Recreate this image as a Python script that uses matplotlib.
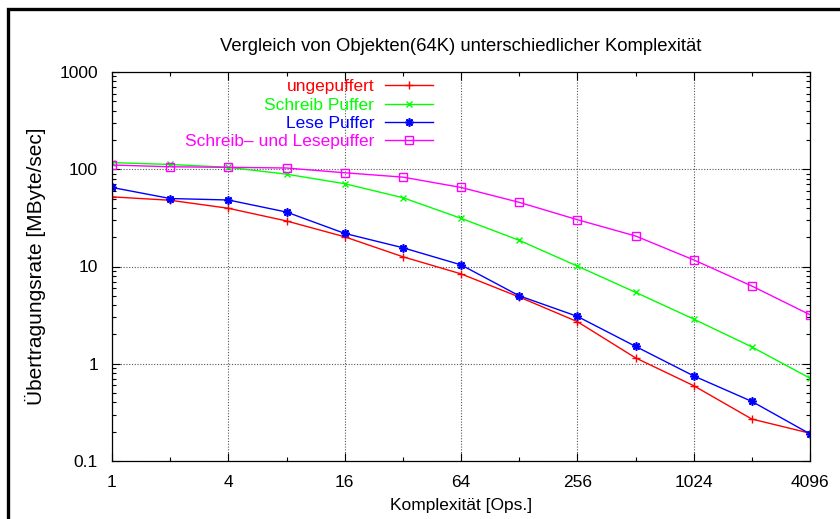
import numpy as np
import matplotlib
matplotlib.use("Agg")
from matplotlib import pyplot as plt
from matplotlib.patches import Rectangle
from matplotlib.ticker import FixedLocator, NullFormatter, LogLocator

plt.rcParams['font.family'] = ['Liberation Sans', 'DejaVu Sans']

# Komplexitaet [Ops.]
ops = [1, 2, 4, 8, 16, 32, 64, 128, 256, 512, 1024, 2048, 4096]

# Uebertragungsrate [MByte/sec]
ungepuffert = [52, 48, 39.7, 29.4, 20.2, 12.6, 8.4, 4.86, 2.71, 1.15, 0.595, 0.27, 0.193]
schreib_puffer = [117, 112, 104.7, 89, 71, 51, 31.3, 18.6, 10.1, 5.43, 2.88, 1.49, 0.71]
lese_puffer = [65, 50, 48.3, 36.3, 21.9, 15.6, 10.4, 5.0, 3.07, 1.51, 0.75, 0.41, 0.19]
schreib_lese = [110.6, 106, 104.7, 103, 92, 83, 65, 45.7, 30.3, 20.6, 11.7, 6.3, 3.19]

xticks = [1, 4, 16, 64, 256, 1024, 4096]
xminor = [2, 8, 32, 128, 512, 2048]
yticks = [0.1, 1, 10, 100, 1000]
ylabels = ['0.1', '1', '10', '100', '1000']

fs = 12.5

fig = plt.figure(figsize=(8.4, 5.19), dpi=100)
ax = fig.add_axes([112/840, 1 - 461/519, 698/840, 389/519])

ax.plot(ops, ungepuffert, color='#ff0000', marker='+', ms=6, mew=1, lw=1, label='ungepuffert')
ax.plot(ops, schreib_puffer, color='#00ff00', marker='x', ms=4.5, mew=1, lw=1, label='Schreib Puffer')
ax.plot(ops, lese_puffer, color='#0000ff', marker=(8, 2, 0), ms=6, mew=1.2, lw=1, label='Lese Puffer')
ax.plot(ops, schreib_lese, color='#ff00ff', marker='s', ms=5.5, mfc='none', mew=1, lw=1,
        label='Schreib\u2013 und Lesepuffer')

ax.set_xscale('log', base=2)
ax.set_yscale('log')
ax.set_xlim(1, 4096)
ax.set_ylim(0.1, 1000)

ax.xaxis.set_major_locator(FixedLocator(xticks))
ax.xaxis.set_minor_locator(FixedLocator(xminor))
ax.set_xticklabels([str(v) for v in xticks])
ax.xaxis.set_minor_formatter(NullFormatter())
ax.yaxis.set_major_locator(FixedLocator(yticks))
ax.set_yticklabels(ylabels)
ax.yaxis.set_minor_locator(LogLocator(base=10, subs=np.arange(2, 10)))
ax.yaxis.set_minor_formatter(NullFormatter())

ax.tick_params(which='both', direction='in', top=True, right=True, labelsize=fs, width=0.8)
ax.tick_params(which='major', length=6)
ax.tick_params(axis='x', which='major', pad=10)
ax.tick_params(axis='y', which='major', pad=10)
ax.tick_params(which='minor', length=3)
ax.grid(True, which='major', color='#555555', ls=(0, (1, 1.5)), lw=0.8)
for s in ax.spines.values():
    s.set_linewidth(0.9)

ax.set_xlabel('Komplexität [Ops.]', fontsize=fs, labelpad=6)
ax.set_ylabel('Übertragungsrate [MByte/sec]', fontsize=15, labelpad=10)
ax.set_title('Vergleich von Objekten(64K) unterschiedlicher Komplexität', fontsize=13.3, pad=15)

leg = ax.legend(loc='upper right', bbox_to_anchor=((445.5 - 112) / 698, 1 + 5/389),
                markerfirst=False, frameon=False, fontsize=fs, handlelength=2.77,
                labelspacing=0.185, borderpad=0.2, handletextpad=0.63)
for t, h in zip(leg.get_texts(), leg.legend_handles):
    t.set_color(h.get_color())

fig.patches.append(Rectangle((8/840, -0.1), 1.2, 1.1 - 9/519, transform=fig.transFigure,
                             fill=False, lw=2.4, ec='black', figure=fig))

fig.savefig('out.png', dpi=100)
